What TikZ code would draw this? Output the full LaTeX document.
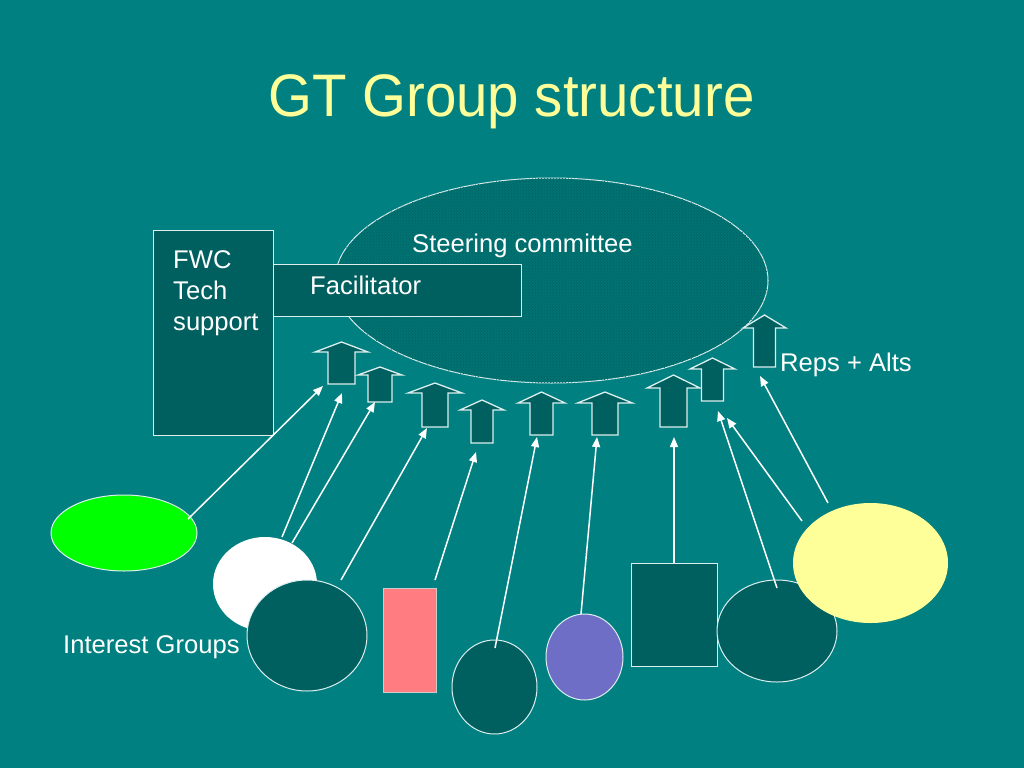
\documentclass[tikz,border=0pt]{standalone}
\usepackage{fontspec}
\setmainfont{Liberation Sans}
\usetikzlibrary{arrows.meta,patterns,shapes.geometric}
\definecolor{bg}{HTML}{008080}
\definecolor{dk}{HTML}{006060}
\definecolor{ttl}{HTML}{FFFF99}
\definecolor{edgec}{HTML}{DDEEEE}
\definecolor{grn}{HTML}{00FF00}
\definecolor{pnk}{HTML}{FF7C80}
\definecolor{prp}{HTML}{6E6EC6}
\definecolor{ylw}{HTML}{FFFF99}
\newcommand\upblk[7]{%
  \draw[blk] (#2-#6,#7) -- (#2-#6,#4) -- (#2-#5,#4) -- (#2,#3) -- (#2+#5,#4) -- (#2+#6,#4) -- (#2+#6,#7) -- cycle;
  \coordinate (#1) at (#2,#7);}
\begin{document}
\begin{tikzpicture}[x=1pt,y=-1pt,
  txt/.style={text=white,font=\fontsize{25.6}{31}\selectfont,anchor=base west,inner sep=0pt,align=left},
  shp/.style={draw=edgec,line width=1pt,inner sep=0pt},
  blk/.style={draw=edgec,fill=dk,line width=1.3pt,line join=miter},
  conn/.style={draw=white,line width=1.5pt,-{Triangle[length=10pt,width=8pt]}}]
\fill[bg] (0,0) rectangle (1024,768);
\useasboundingbox (0,0) rectangle (1024,768);
% title
\node[text=ttl,font=\fontsize{60}{72}\selectfont,anchor=base,inner sep=0pt,xscale=0.94] (title) at (511.5,116) {GT Group structure};
% steering committee
\node[shp,ellipse,fill=bg!55!dk,postaction={pattern=crosshatch dots,pattern color=dk},minimum width=433pt,minimum height=205pt] (steer) at (551.5,280.5) {};
\node[txt] (steerlbl) at (412,252) {Steering committee};
% FWC box and facilitator
\node[shp,rectangle,fill=dk,minimum width=120pt,minimum height=205pt] (fwc) at (213,332.5) {};
\node[txt] (fwclbl) at (173,330) {FWC\\Tech\\support};
\node[shp,rectangle,fill=dk,minimum width=248pt,minimum height=52pt] (facil) at (397,290) {};
\node[txt] (faclbl) at (310,294) {Facilitator};
% block arrows: name, cx, tip, headbase, head half-width, shaft half-width, bottom
\upblk{a1}{341.5}{342}{352}{26.5}{13.5}{384}
\upblk{a2}{380}{367}{375}{22}{12}{402}
\upblk{a3}{435}{383}{393}{27}{13}{427}
\upblk{a4}{482}{400}{410}{22}{11}{443}
\upblk{a5}{541.5}{392}{403}{23.5}{11.5}{435}
\upblk{a6}{605}{392}{403}{27.5}{13}{435}
\upblk{a7}{673.5}{375}{388}{26.5}{13.5}{427}
\upblk{a8}{712.5}{358}{369}{22.5}{11}{401}
\upblk{a9}{764.5}{315}{328}{21.5}{11}{367}
\node[txt] (reps) at (780,371) {Reps + Alts};
% interest groups
\node[shp,ellipse,fill=grn,minimum width=146pt,minimum height=76pt] (g1) at (124,533) {};
\node[ellipse,fill=white,inner sep=0pt,minimum width=104pt,minimum height=94pt] (g2) at (265,584) {};
\node[shp,ellipse,fill=dk,minimum width=120pt,minimum height=111pt] (g3) at (307,635.5) {};
\node[shp,rectangle,fill=pnk,draw=gray!40,minimum width=53pt,minimum height=104pt] (g4) at (409.5,640) {};
\node[shp,ellipse,fill=dk,minimum width=85pt,minimum height=94pt] (g5) at (494.5,687) {};
\node[shp,ellipse,fill=prp,minimum width=77pt,minimum height=86pt] (g6) at (584.5,657) {};
\node[shp,rectangle,fill=dk,minimum width=86pt,minimum height=103pt] (g7) at (674,614.5) {};
\node[shp,ellipse,fill=dk,minimum width=120pt,minimum height=102pt] (g8) at (777,631) {};
\node[ellipse,fill=ylw,inner sep=0pt,minimum width=155pt,minimum height=120pt] (g9) at (870.5,563) {};
\node[txt] (iglbl) at (63,653) {Interest Groups};
% connector end points
\coordinate (s1) at (188,519);  \coordinate (t1) at (323,386);
\coordinate (s2) at (282,537);  \coordinate (t2) at (342,393);
\coordinate (s3) at (292,543);  \coordinate (t3) at (375,402);
\coordinate (s4) at (341,580);  \coordinate (t4) at (427,428);
\coordinate (s5) at (435,580);  \coordinate (t5) at (476,452);
\coordinate (s6) at (495,648);  \coordinate (t6) at (537,437);
\coordinate (s7) at (581,614);  \coordinate (t7) at (597,437);
\coordinate (t8) at (674,437);
\coordinate (s9) at (777,588);  \coordinate (t9) at (718,411);
\coordinate (s10) at (802,521); \coordinate (t10) at (727,418);
\coordinate (s11) at (828,503); \coordinate (t11) at (760,376);
\draw[conn] (s1) -- (t1);
\draw[conn] (s2) -- (t2);
\draw[conn] (s3) -- (t3);
\draw[conn] (s4) -- (t4);
\draw[conn] (s5) -- (t5);
\draw[conn] (s6) -- (t6);
\draw[conn] (s7) -- (t7);
\draw[conn] (g7.north) -- (t8);
\draw[conn] (s9) -- (t9);
\draw[conn] (s10) -- (t10);
\draw[conn] (s11) -- (t11);
\end{tikzpicture}
\end{document}
